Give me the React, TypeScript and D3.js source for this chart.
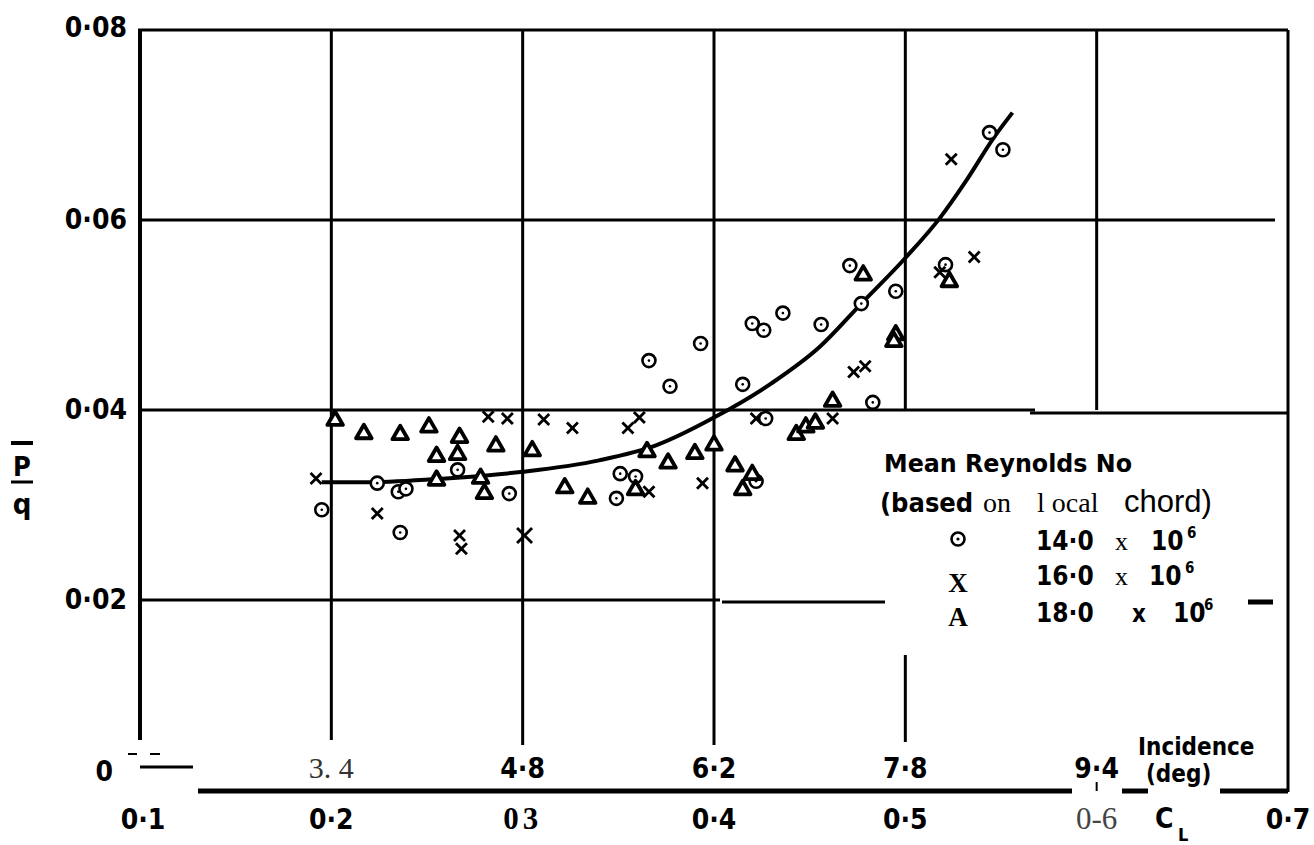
import React from "react";
import * as d3 from "d3";

// drag coefficient p/q against lift coefficient CL, three Reynolds numbers

// 14.0 x 10^6 (circles)
const re14CL = [0.195, 0.224, 0.235, 0.239, 0.236, 0.266, 0.293, 0.351, 0.359, 0.349, 0.366, 0.377, 0.393, 0.415, 0.427, 0.422, 0.42, 0.426, 0.436, 0.456, 0.471, 0.477, 0.483, 0.495, 0.521, 0.544, 0.551];
const re14P = [0.0295, 0.0323, 0.0314, 0.0317, 0.0271, 0.0337, 0.0312, 0.0333, 0.033, 0.0307, 0.0452, 0.0425, 0.047, 0.0427, 0.0391, 0.0325, 0.0491, 0.0484, 0.0502, 0.049, 0.0552, 0.0512, 0.0408, 0.0525, 0.0553, 0.0692, 0.0674];

// 16.0 x 10^6 (crosses)
const re16CL = [0.192, 0.224, 0.267, 0.268, 0.301, 0.282, 0.292, 0.311, 0.326, 0.355, 0.361, 0.366, 0.394, 0.422, 0.462, 0.473, 0.479, 0.518, 0.524, 0.536];
const re16P = [0.0328, 0.0291, 0.0268, 0.0254, 0.0268, 0.0393, 0.0391, 0.039, 0.0381, 0.0381, 0.0392, 0.0314, 0.0323, 0.0391, 0.0391, 0.044, 0.0446, 0.0545, 0.0664, 0.0561];

// 18.0 x 10^6 (triangles)
const re18CL = [0.202, 0.217, 0.236, 0.251, 0.267, 0.255, 0.266, 0.255, 0.278, 0.28, 0.286, 0.305, 0.322, 0.334, 0.359, 0.365, 0.376, 0.39, 0.4, 0.411, 0.415, 0.42, 0.443, 0.448, 0.453, 0.462, 0.478, 0.495, 0.494, 0.523];
const re18P = [0.0389, 0.0375, 0.0374, 0.0382, 0.0371, 0.0351, 0.0353, 0.0326, 0.0328, 0.0312, 0.0362, 0.0357, 0.0318, 0.0307, 0.0316, 0.0356, 0.0344, 0.0354, 0.0363, 0.0341, 0.0316, 0.0332, 0.0374, 0.0382, 0.0386, 0.0409, 0.0542, 0.0479, 0.0472, 0.0535];

// faired curve
const curveCL = [0.195, 0.22, 0.26, 0.3, 0.34, 0.37, 0.4, 0.43, 0.455, 0.477, 0.5, 0.518, 0.532, 0.546, 0.556];
const curveP = [0.0324, 0.0324, 0.0328, 0.0335, 0.0347, 0.0363, 0.0392, 0.0428, 0.0466, 0.0512, 0.056, 0.0602, 0.0642, 0.0686, 0.0713];

const clTicks = [0.1, 0.2, 0.3, 0.4, 0.5, 0.6, 0.7];
const clTickLabels = ["0·1", "0·2", "03", "0·4", "0·5", "0-6", "0·7"];
const incidenceAt = [0.2, 0.3, 0.4, 0.5, 0.6];
const incidenceLabels = ["3. 4", "4·8", "6·2", "7·8", "9·4"];
const pTicks = [0.02, 0.04, 0.06, 0.08];
const pTickLabels = ["0·02", "0·04", "0·06", "0·08"];

const SANS = "'DejaVu Sans Condensed', 'DejaVu Sans', sans-serif";
const SERIF = "'Liberation Serif', 'DejaVu Serif', serif";
const NARROW = "'Liberation Sans Narrow', 'Liberation Sans', sans-serif";

const App = () => {
  const x = d3.scaleLinear().domain([0.1, 0.7]).range([140, 1288]);
  const y = d3.scaleLinear().domain([0, 0.08]).range([790, 30]);

  const line = d3
    .line<number>()
    .x((d, i) => x(curveCL[i]))
    .y((d) => y(d))
    .curve(d3.curveMonotoneX);

  const tri = d3.symbol(d3.symbolTriangle, 105)();

  const top = y(0.08);
  const bottom = y(0) - 50;

  return (
    <svg
      width={1314}
      height={845}
      style={{ position: "absolute", left: 0, top: 0, background: "#fff" }}
    >
      <g stroke="#000" strokeWidth={3} fill="none">
        {/* frame */}
        <line x1={x(0.1) - 2} x2={x(0.7)} y1={top} y2={top} />
        <line x1={x(0.1)} x2={x(0.1)} y1={top} y2={bottom} strokeWidth={4} />
        <line x1={x(0.7)} x2={x(0.7)} y1={top} y2={y(0) + 2} />
        {/* vertical grid */}
        <line x1={x(0.2)} x2={x(0.2)} y1={top} y2={bottom} />
        <line x1={x(0.3)} x2={x(0.3)} y1={top} y2={bottom + 5} />
        <line x1={x(0.4)} x2={x(0.4)} y1={top} y2={bottom + 5} />
        <line x1={x(0.5)} x2={x(0.5)} y1={top} y2={y(0.04)} />
        <line x1={x(0.5)} x2={x(0.5)} y1={655} y2={bottom + 2} />
        <line x1={x(0.6)} x2={x(0.6)} y1={top} y2={y(0.04)} />
        {/* horizontal grid */}
        <line x1={x(0.1)} x2={1275} y1={y(0.06)} y2={y(0.06)} />
        <line x1={x(0.1)} x2={1035} y1={y(0.04)} y2={y(0.04)} />
        <line x1={1030} x2={x(0.7)} y1={y(0.04) + 3} y2={y(0.04) + 3} />
        <line x1={x(0.1)} x2={720} y1={y(0.02)} y2={y(0.02)} />
        <line x1={722} x2={885} y1={y(0.02) + 2} y2={y(0.02) + 2} />
        <line x1={1248} x2={1273} y1={y(0.02) + 2} y2={y(0.02) + 2} strokeWidth={5} />
        {/* incidence / CL base line */}
        <line x1={x(0.1)} x2={x(0.1) + 53} y1={767} y2={767} />
        <line x1={128} x2={137} y1={754} y2={754} strokeWidth={2} />
        <line x1={150} x2={160} y1={754} y2={754} strokeWidth={2} />
        <line x1={198} x2={1072} y1={y(0) + 1} y2={y(0) + 1} strokeWidth={5} />
        <line x1={1122} x2={1148} y1={y(0) + 1} y2={y(0) + 1} strokeWidth={5} />
        <line x1={1220} x2={x(0.7)} y1={y(0) + 1} y2={y(0) + 1} strokeWidth={5} />
        <line x1={x(0.6)} x2={x(0.6)} y1={y(0) - 8} y2={y(0) + 1} strokeWidth={2} />
      </g>

      {/* faired curve */}
      <path d={line(curveP) || ""} fill="none" stroke="#000" strokeWidth={4} />

      {/* 14.0 circles */}
      {re14CL.map((c, i) => (
        <g key={"c" + i} transform={`translate(${x(c)},${y(re14P[i])})`}>
          <circle r={6.5} fill="#fff" stroke="#000" strokeWidth={2.6} />
          <circle r={1.3} fill="#000" />
        </g>
      ))}
      {/* 16.0 crosses */}
      {re16CL.map((c, i) => {
        const s = i === 4 ? 7.5 : 5.5;
        return (
          <g key={"x" + i} transform={`translate(${x(c)},${y(re16P[i])})`} stroke="#000" strokeWidth={2.8}>
            <line x1={-s} x2={s} y1={-s} y2={s} />
            <line x1={-s} x2={s} y1={s} y2={-s} />
          </g>
        );
      })}
      {/* 18.0 triangles */}
      {re18CL.map((c, i) => (
        <path
          key={"t" + i}
          d={tri || ""}
          transform={`translate(${x(c)},${y(re18P[i])})`}
          fill="#fff"
          stroke="#000"
          strokeWidth={3.8}
          strokeLinejoin="round"
        />
      ))}

      {/* y tick labels */}
      <g fontFamily={SANS} fontWeight="bold" fontSize={28} textAnchor="end">
        {pTicks.map((t, i) => (
          <text key={t} x={127} y={y(t) + (t === 0.08 ? 7 : 9)}>
            {pTickLabels[i]}
          </text>
        ))}
        <text x={113} y={781}>0</text>
      </g>

      {/* y label p/q */}
      <g>
        <line x1={11} x2={33} y1={443} y2={443} stroke="#000" strokeWidth={4} />
        <text x={22} y={476} textAnchor="middle" fontFamily={SANS} fontWeight="bold" fontSize={27}>P</text>
        <line x1={11} x2={33} y1={482} y2={482} stroke="#000" strokeWidth={3} />
        <text x={22} y={514} textAnchor="middle" fontFamily={SANS} fontWeight="bold" fontSize={29}>q</text>
      </g>

      {/* incidence labels */}
      <g fontSize={28} textAnchor="middle">
        {incidenceAt.map((t, i) => (
          <text
            key={t}
            x={x(t)}
            y={778}
            fontFamily={i === 0 ? SERIF : SANS}
            fontWeight={i === 0 ? "normal" : "bold"}
            fontSize={i === 0 ? 30 : 28}
            fill={i === 0 ? "#333" : "#000"}
          >
            {incidenceLabels[i]}
          </text>
        ))}
      </g>
      <text x={1138} y={755} fontFamily={SANS} fontWeight="bold" fontSize={24}>Incidence</text>
      <text x={1146} y={782} fontFamily={SANS} fontWeight="bold" fontSize={24}>(deg)</text>

      {/* CL labels */}
      <g textAnchor="middle">
        {clTicks.map((t, i) => (
          <text
            key={t}
            x={t === 0.1 ? x(t) + 3 : x(t)}
            y={829}
            fontFamily={i === 2 || i === 5 ? SERIF : SANS}
            fontWeight={i === 5 ? "normal" : "bold"}
            fontSize={i === 2 || i === 5 ? 31 : 28}
            fill={i === 5 ? "#444" : "#000"}
            letterSpacing={i === 2 ? 4 : 0}
          >
            {clTickLabels[i]}
          </text>
        ))}
      </g>
      <text x={1155} y={828} fontFamily={SANS} fontWeight="bold" fontSize={28}>C</text>
      <text x={1178} y={841} fontFamily={SANS} fontWeight="bold" fontSize={18}>L</text>

      {/* legend */}
      <text x={884} y={472} fontFamily={SANS} fontWeight="bold" fontSize={25} textLength={248} lengthAdjust="spacingAndGlyphs">
        Mean Reynolds No
      </text>
      <text x={880} y={512} fontFamily={SANS} fontWeight="bold" fontSize={27}>(based</text>
      <text x={983} y={512} fontFamily={SERIF} fontSize={28}>on</text>
      <text x={1037} y={512} fontFamily={SERIF} fontSize={28}>l ocal</text>
      <text x={1124} y={512} fontFamily={NARROW} fontSize={31}>chord)</text>

      <g transform="translate(958,539)">
        <circle r={6.5} fill="#fff" stroke="#000" strokeWidth={2.6} />
        <circle r={1.6} fill="#000" />
      </g>
      <text x={958} y={592} textAnchor="middle" fontFamily={SERIF} fontWeight="bold" fontSize={27}>X</text>
      <text x={958} y={626} textAnchor="middle" fontFamily={SERIF} fontWeight="bold" fontSize={27}>A</text>

      <g fontFamily={SANS} fontWeight="bold" fontSize={26}>
        <text x={1036} y={550}>14·0</text>
        <text x={1036} y={585}>16·0</text>
        <text x={1036} y={622}>18·0</text>
        <text x={1151} y={550}>10</text>
        <text x={1149} y={585}>10</text>
        <text x={1173} y={622}>10</text>
        <text x={1187} y={538} fontSize={15}>6</text>
        <text x={1185} y={573} fontSize={15}>6</text>
        <text x={1204} y={610} fontSize={15}>6</text>
        <text x={1132} y={622} fontSize={24}>x</text>
      </g>
      <g fontFamily={SERIF} fontSize={26}>
        <text x={1115} y={550}>x</text>
        <text x={1115} y={585}>x</text>
      </g>
    </svg>
  );
};

export default App;
